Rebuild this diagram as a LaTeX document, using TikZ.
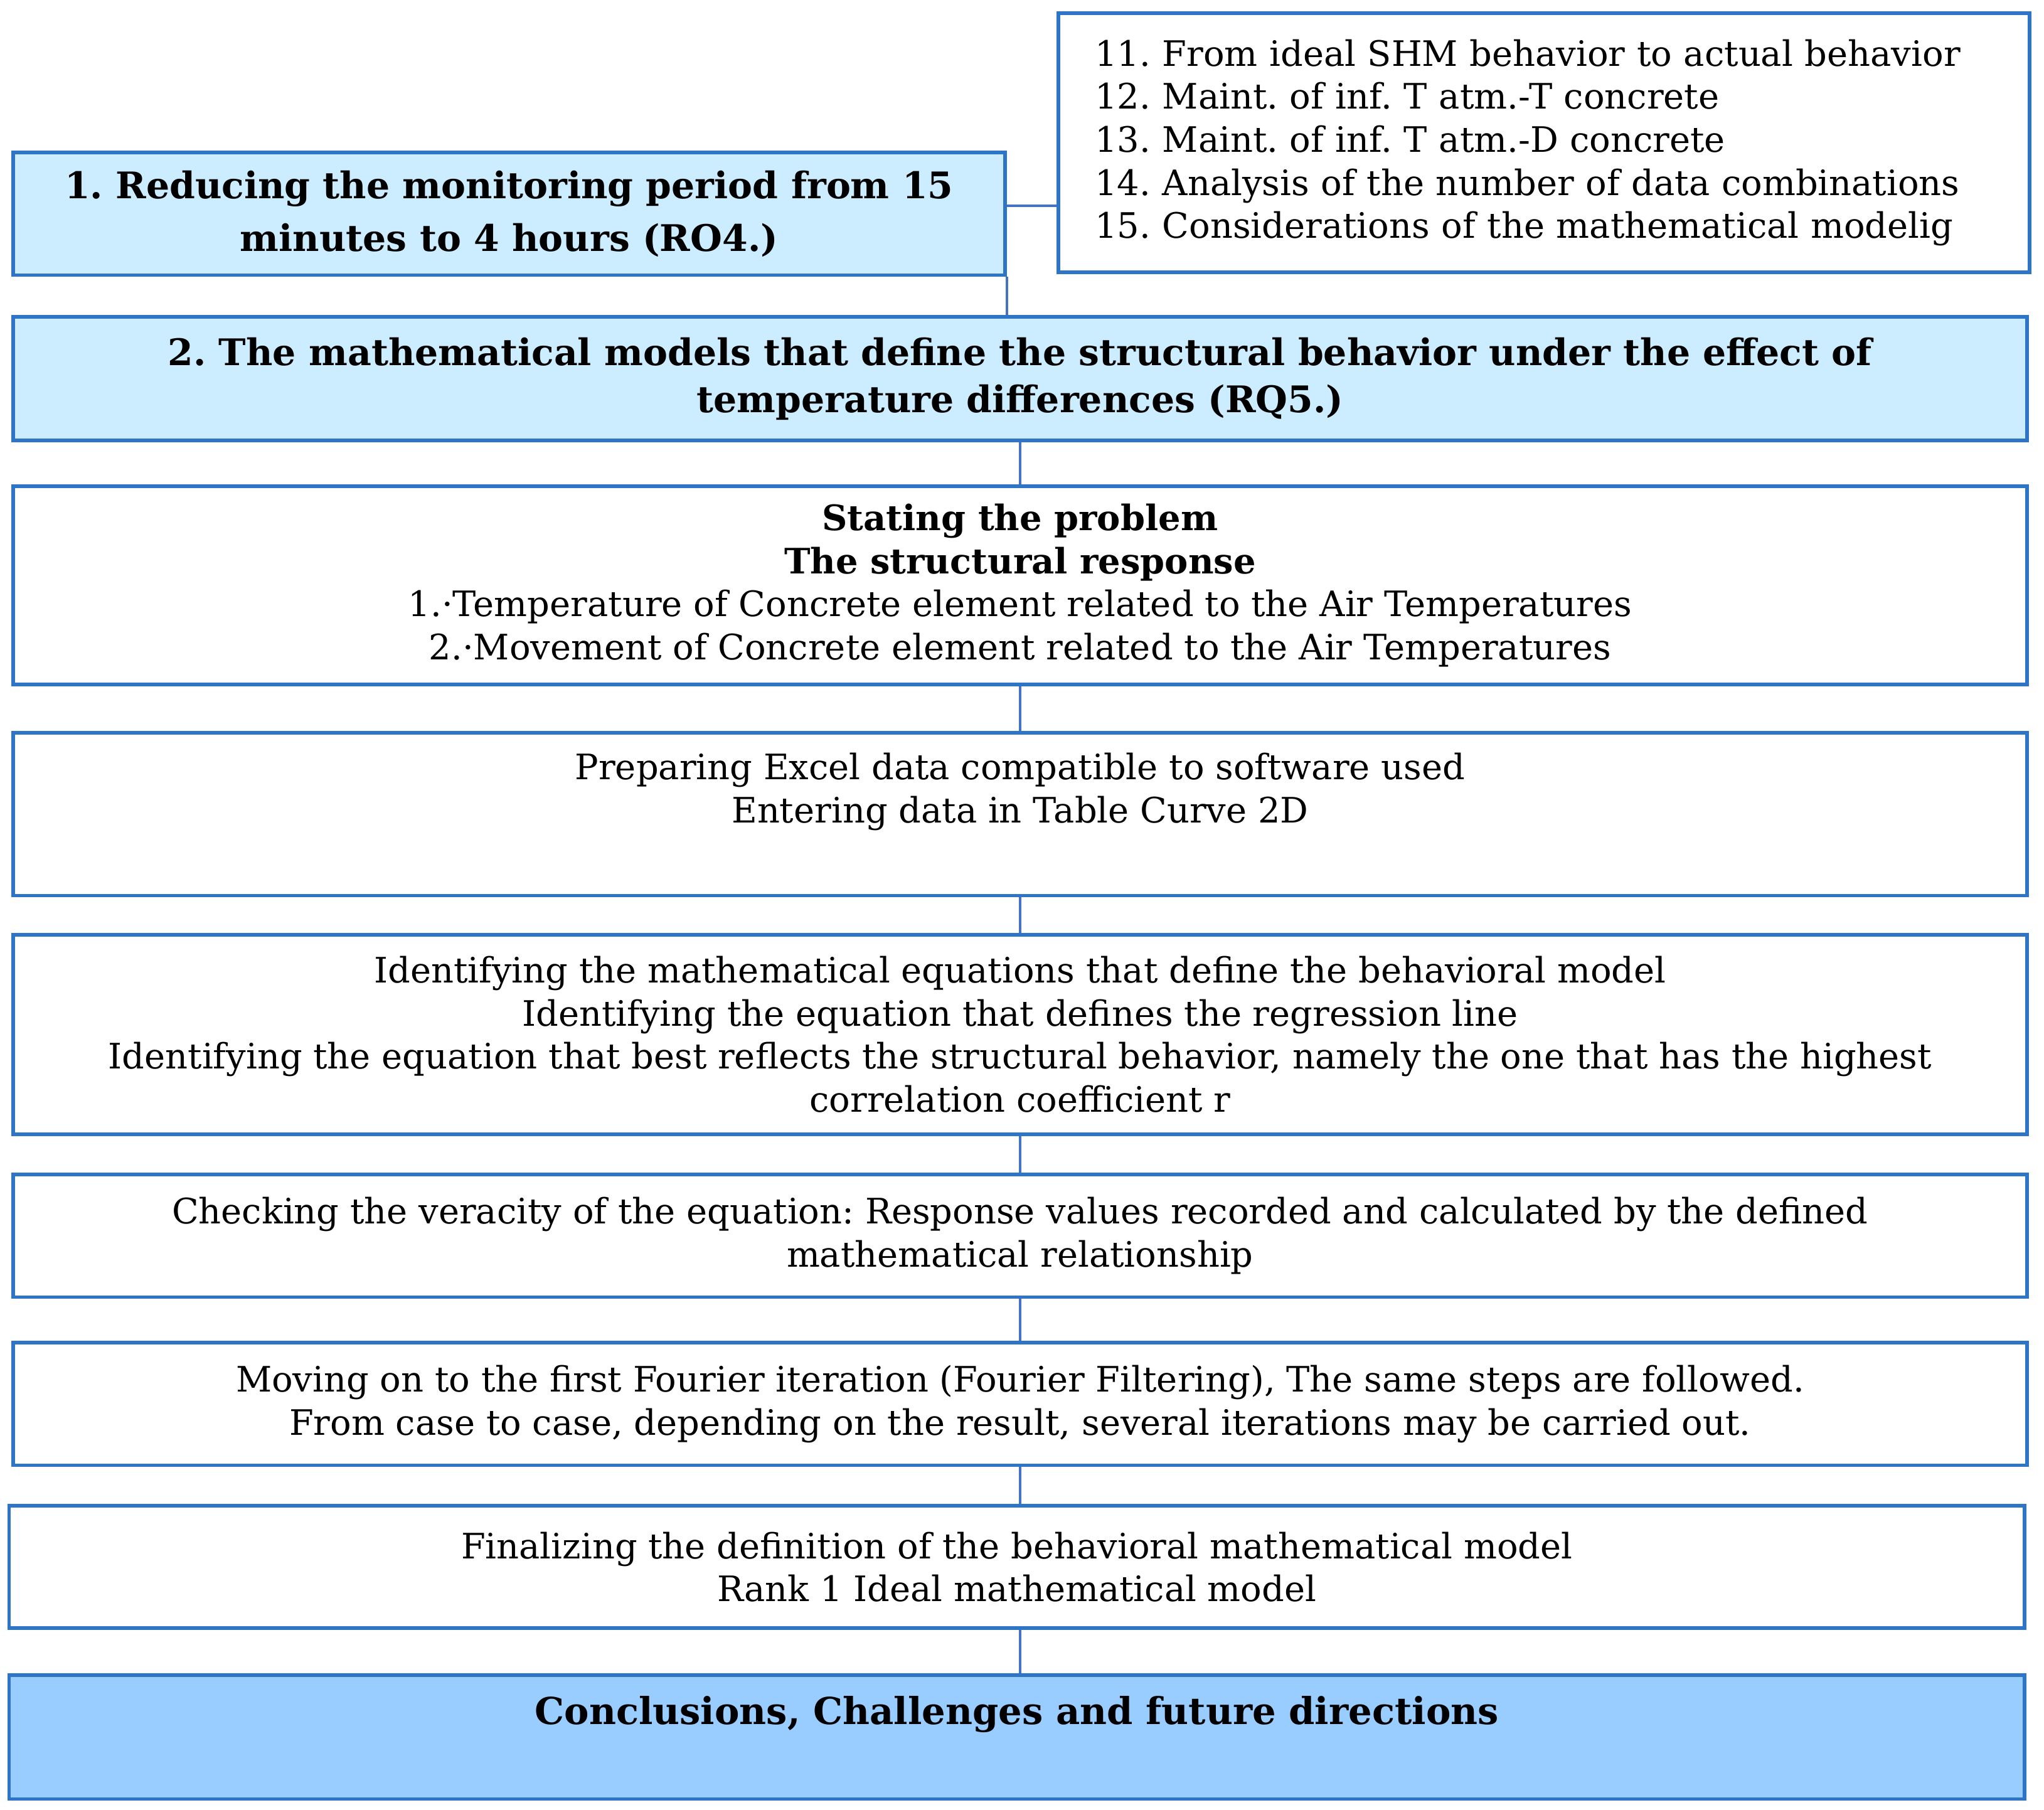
\documentclass[tikz,border=0pt]{standalone}
\usepackage{fontspec}
\setmainfont{DejaVu Serif}
\usepackage{tikz}
\usetikzlibrary{positioning}
\definecolor{boxline}{RGB}{46,117,200}
\definecolor{linkline}{RGB}{68,114,196}
\definecolor{paleblue}{RGB}{204,236,255}
\definecolor{midblue}{RGB}{153,204,255}
\frenchspacing
\tikzset{stepbox/.style={rectangle, draw=boxline, line width=1.6pt, fill=white, align=center, inner sep=0pt, font=\fontsize{15.3}{18.8}\selectfont}, headbox/.style={stepbox, fill=paleblue, font=\fontsize{16}{20.5}\selectfont\bfseries}, endbox/.style={stepbox, fill=midblue, font=\fontsize{16.2}{20.5}\selectfont\bfseries}, link/.style={draw=linkline, line width=1pt}}

\begin{document}
\begin{tikzpicture}
\useasboundingbox (0,0) rectangle (31.36,-27.76);
\node[stepbox, minimum width=14.90cm, minimum height=3.98cm, align=left, inner xsep=0.56cm, text width=13.78cm] (list) at (23.69,-2.19) {11. From ideal SHM behavior to actual behavior\\12. Maint. of inf. T atm.-T concrete\\13. Maint. of inf. T atm.-D concrete\\14. Analysis of the number of data combinations\\15. Considerations of the mathematical modelig};
\node[headbox, minimum width=15.22cm, minimum height=1.88cm, font=\fontsize{16}{22.8}\selectfont\bfseries] (reduce) at (7.81,-3.28) {1. Reducing the monitoring period from 15\\minutes to 4 hours (RO4.)};
\node[headbox, minimum width=30.90cm, minimum height=1.90cm] (models) at (15.65,-5.81) {2. The mathematical models that define the structural behavior under the effect of\\temperature differences (RQ5.)};
\node[stepbox, minimum width=30.90cm, minimum height=3.04cm] (problem) at (15.65,-8.98) {\textbf{Stating the problem}\\\textbf{The structural response}\\1.·Temperature of Concrete element related to the Air Temperatures\\2.·Movement of Concrete element related to the Air Temperatures};
\node[stepbox, minimum width=30.90cm, minimum height=2.50cm, text depth=0.80cm] (excel) at (15.65,-12.49) {Preparing Excel data compatible to software used\\Entering data in Table Curve 2D};
\node[stepbox, minimum width=30.90cm, minimum height=3.06cm] (equations) at (15.65,-15.87) {Identifying the mathematical equations that define the behavioral model\\Identifying the equation that defines the regression line\\Identifying the equation that best reflects the structural behavior, namely the one that has the highest\\correlation coefficient r};
\node[stepbox, minimum width=30.90cm, minimum height=1.88cm] (check) at (15.65,-18.96) {Checking the veracity of the equation: Response values recorded and calculated by the defined\\mathematical relationship};
\node[stepbox, minimum width=30.90cm, minimum height=1.88cm] (fourier) at (15.65,-21.54) {Moving on to the first Fourier iteration (Fourier Filtering), The same steps are followed.\\From case to case, depending on the result, several iterations may be carried out.};
\node[stepbox, minimum width=30.92cm, minimum height=1.88cm] (final) at (15.60,-24.04) {Finalizing the definition of the behavioral mathematical model\\Rank 1 Ideal mathematical model};
\node[endbox, minimum width=30.92cm, minimum height=1.90cm, text depth=0.82cm] (concl) at (15.60,-26.65) {Conclusions, Challenges and future directions};
% connectors
\coordinate (side) at ([yshift=0.12cm]reduce.east);
\draw[link] (side) -- (side -| list.west);
\draw[link] (reduce.south east) -- (reduce.south east |- models.north);
\draw[link] (models.south) -- (problem.north);
\draw[link] (problem.south) -- (excel.north);
\draw[link] (excel.south) -- (equations.north);
\draw[link] (equations.south) -- (check.north);
\draw[link] (check.south) -- (fourier.north);
\draw[link] (fourier.south) -- (fourier.south |- final.north);
\draw[link] (fourier.south |- final.south) -- (fourier.south |- concl.north);
\end{tikzpicture}
\end{document}
